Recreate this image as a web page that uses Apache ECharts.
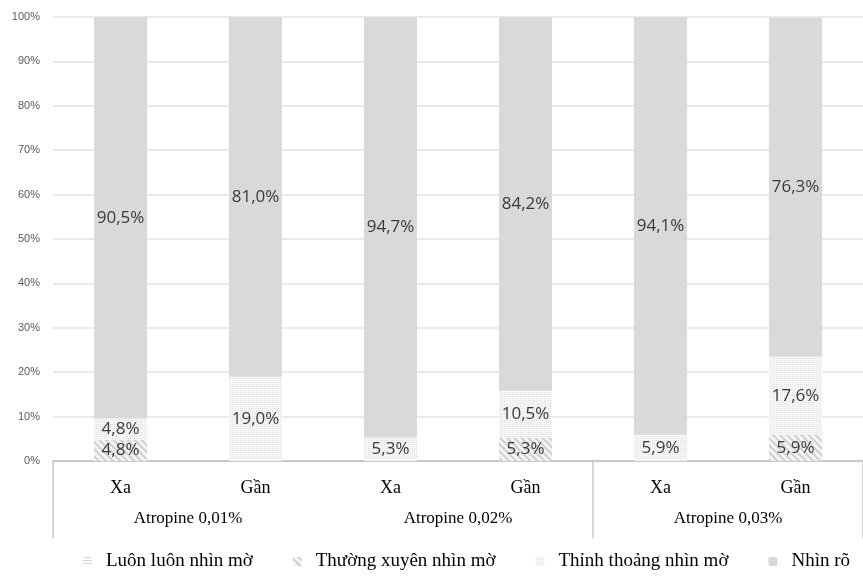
<!DOCTYPE html>
<html>
<head>
<meta charset="utf-8" />
<title>Atropine</title>
<script src="https://cdn.jsdelivr.net/npm/echarts@6/dist/echarts.min.js"></script>
<style>
  html, body { margin: 0; padding: 0; background: #fff; }
  #main { width: 863px; height: 577px; }
</style>
</head>
<body>
<div id="main"></div>
<script>
// du lieu
var categories = ['Xa', 'Gần', 'Xa', 'Gần', 'Xa', 'Gần'];
var groups = ['Atropine 0,01%', 'Atropine 0,02%', 'Atropine 0,03%'];
var yTicks = [0, 10, 20, 30, 40, 50, 60, 70, 80, 90, 100];

var luonLuon = [0, 0, 0, 0, 0, 0];
var thuongXuyen = [4.8, 0, 0, 5.3, 0, 5.9];
var thinhThoang = [4.8, 19.0, 5.3, 10.5, 5.9, 17.6];
var nhinRo = [90.5, 81.0, 94.7, 84.2, 94.1, 76.3];

var serif = '"Liberation Serif", "DejaVu Serif", serif';

function fmt(p) {
  if (!p.value) return '';
  return p.value.toFixed(1).replace('.', ',') + '%';
}

var labelCfg = {
  show: true,
  position: 'inside',
  formatter: fmt,
  color: '#3a3a3a',
  fontSize: 17,
  fontFamily: 'Open Sans'
};

function bar(name, data, itemStyle) {
  return {
    name: name,
    type: 'bar',
    stack: 'tong',
    barWidth: 53,
    data: data,
    label: labelCfg,
    itemStyle: itemStyle
  };
}

var chart = echarts.init(document.getElementById('main'));

chart.setOption({
  backgroundColor: '#fff',
  animation: false,
  grid: { left: 53, right: 0, top: 17, bottom: 116 },
  legend: {
    bottom: 1,
    left: 78,
    width: 785,
    itemWidth: 9,
    itemHeight: 9,
    itemGap: 40,
    textStyle: { fontFamily: serif, fontSize: 19, color: '#000', padding: [0, 0, 0, 9] },
    data: ['Luôn luôn nhìn mờ', 'Thường xuyên nhìn mờ', 'Thỉnh thoảng nhìn mờ', 'Nhìn rõ']
  },
  xAxis: [
    {
      type: 'category',
      data: categories,
      axisLine: { lineStyle: { color: '#bfbfbf', width: 1.5 } },
      // vach ngan ngan o giua nhom 1 va 2
      axisTick: {
        show: true,
        length: 5,
        interval: function (idx) { return idx === 2; },
        lineStyle: { color: '#c8c8c8', width: 1.5 }
      },
      axisLabel: { margin: 18, fontFamily: serif, fontSize: 18, color: '#000' }
    },
    {
      type: 'category',
      data: groups,
      position: 'bottom',
      axisLine: { show: false },
      axisTick: {
        show: true,
        length: 77,
        interval: function (idx) { return idx !== 1; },
        lineStyle: { color: '#c8c8c8', width: 1.5 }
      },
      axisLabel: { margin: 49, fontFamily: serif, fontSize: 17, color: '#000' }
    }
  ],
  yAxis: {
    type: 'value',
    min: yTicks[0],
    max: yTicks[yTicks.length - 1],
    interval: 10,
    axisLabel: {
      formatter: '{value}%',
      fontSize: 11,
      color: '#595959',
      fontFamily: '"Liberation Sans", sans-serif',
      margin: 13
    },
    axisLine: { show: false },
    axisTick: { show: false },
    splitLine: { lineStyle: { color: '#e3e3e3', width: 1.5 } }
  },
  series: [
    bar('Luôn luôn nhìn mờ', luonLuon, {
      color: '#ffffff',
      decal: { symbol: 'rect', color: '#d6d6d6', dashArrayX: [1, 0], dashArrayY: [1, 2], rotation: 0 }
    }),
    bar('Thường xuyên nhìn mờ', thuongXuyen, {
      color: '#f4f4f4',
      decal: { symbol: 'rect', color: '#cfcfcf', dashArrayX: [1, 0], dashArrayY: [2, 3], rotation: Math.PI / 4 }
    }),
    bar('Thỉnh thoảng nhìn mờ', thinhThoang, {
      color: '#f7f7f7',
      decal: { symbol: 'rect', symbolSize: 1, color: '#e2e2e2', dashArrayX: [1, 1], dashArrayY: [1, 1], rotation: 0 }
    }),
    bar('Nhìn rõ', nhinRo, { color: '#d9d9d9' })
  ]
});
</script>
</body>
</html>
